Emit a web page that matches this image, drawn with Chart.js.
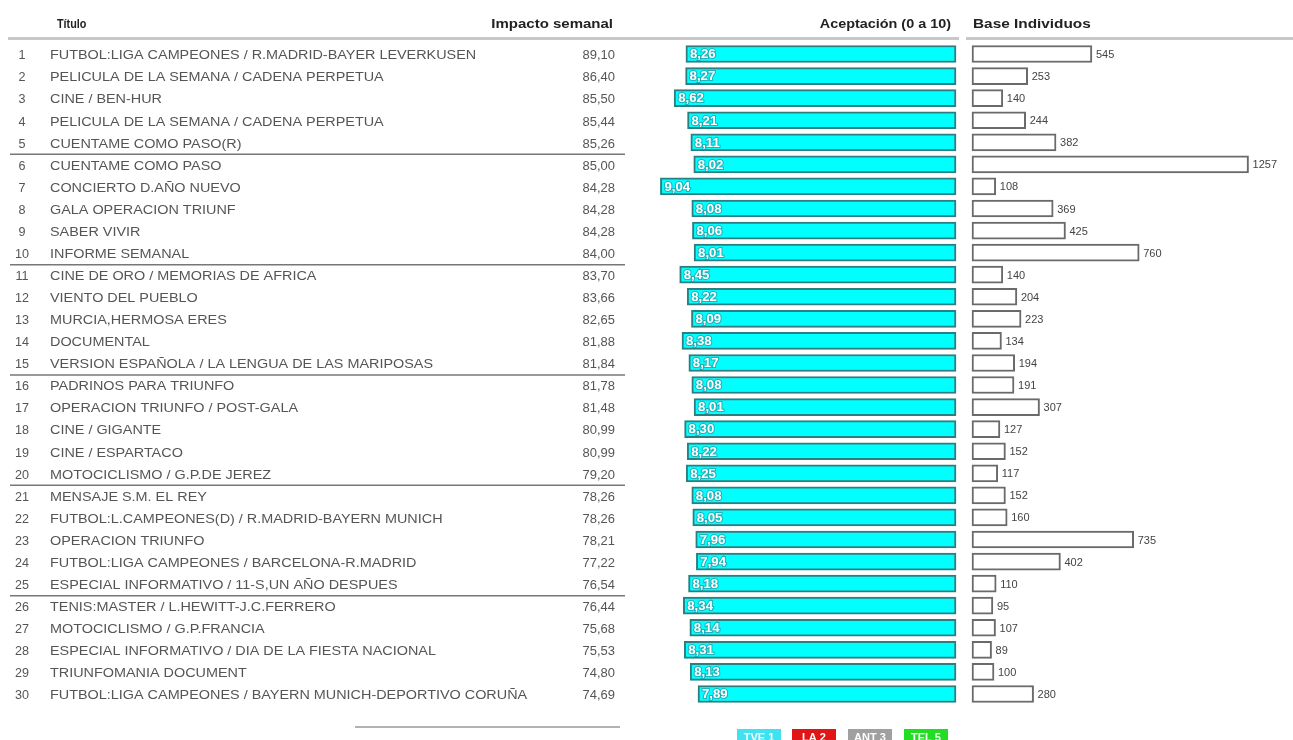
<!DOCTYPE html>
<html>
<head>
<meta charset="utf-8">
<script src="https://cdn.jsdelivr.net/npm/chart.js@4"></script>
<style>
  html, body { margin: 0; padding: 0; background: #fff; }
  #wrap { position: relative; width: 1293px; height: 740px; }
</style>
</head>
<body>
<div id="wrap"><canvas id="rankingChart"></canvas></div>
<script>
/* global Chart:false */

var titulos = [
  "FUTBOL:LIGA CAMPEONES / R.MADRID-BAYER LEVERKUSEN",
  "PELICULA DE LA SEMANA / CADENA PERPETUA",
  "CINE / BEN-HUR",
  "PELICULA DE LA SEMANA / CADENA PERPETUA",
  "CUENTAME COMO PASO(R)",
  "CUENTAME COMO PASO",
  "CONCIERTO D.AÑO NUEVO",
  "GALA OPERACION TRIUNF",
  "SABER VIVIR",
  "INFORME SEMANAL",
  "CINE DE ORO / MEMORIAS DE AFRICA",
  "VIENTO DEL PUEBLO",
  "MURCIA,HERMOSA ERES",
  "DOCUMENTAL",
  "VERSION ESPAÑOLA / LA LENGUA DE LAS MARIPOSAS",
  "PADRINOS PARA TRIUNFO",
  "OPERACION TRIUNFO / POST-GALA",
  "CINE / GIGANTE",
  "CINE / ESPARTACO",
  "MOTOCICLISMO / G.P.DE JEREZ",
  "MENSAJE S.M. EL REY",
  "FUTBOL:L.CAMPEONES(D) / R.MADRID-BAYERN MUNICH",
  "OPERACION TRIUNFO",
  "FUTBOL:LIGA CAMPEONES / BARCELONA-R.MADRID",
  "ESPECIAL INFORMATIVO / 11-S,UN AÑO DESPUES",
  "TENIS:MASTER / L.HEWITT-J.C.FERRERO",
  "MOTOCICLISMO / G.P.FRANCIA",
  "ESPECIAL INFORMATIVO / DIA DE LA FIESTA NACIONAL",
  "TRIUNFOMANIA DOCUMENT",
  "FUTBOL:LIGA CAMPEONES / BAYERN MUNICH-DEPORTIVO CORUÑA"
];
var impactoSemanal = [89.10, 86.40, 85.50, 85.44, 85.26, 85.00, 84.28, 84.28, 84.28, 84.00,
  83.70, 83.66, 82.65, 81.88, 81.84, 81.78, 81.48, 80.99, 80.99, 79.20,
  78.26, 78.26, 78.21, 77.22, 76.54, 76.44, 75.68, 75.53, 74.80, 74.69];
var aceptacion = [8.26, 8.27, 8.62, 8.21, 8.11, 8.02, 9.04, 8.08, 8.06, 8.01,
  8.45, 8.22, 8.09, 8.38, 8.17, 8.08, 8.01, 8.30, 8.22, 8.25,
  8.08, 8.05, 7.96, 7.94, 8.18, 8.34, 8.14, 8.31, 8.13, 7.89];
var baseIndividuos = [545, 253, 140, 244, 382, 1257, 108, 369, 425, 760,
  140, 204, 223, 134, 194, 191, 307, 127, 152, 117,
  152, 160, 735, 402, 110, 95, 107, 89, 100, 280];
var cadenas = ["TVE 1", "LA 2", "ANT 3", "TEL 5"];
var cadenaColores = ["#40e2f2", "#e01515", "#a0a0a0", "#22dd22"];

// pixel layout of the two bar columns (both x axes share the plot area)
var PLOT_L = 627, PLOT_R = 1293;
var ACC_ZERO = 956, ACC_PX = 32.7;
var BASE_ZERO = 972, BASE_PX = 0.22;
var accMax = (ACC_ZERO - PLOT_L) / ACC_PX;
var accMin = accMax - (PLOT_R - PLOT_L) / ACC_PX;
var baseMin = -(BASE_ZERO - PLOT_L) / BASE_PX;
var baseMax = baseMin + (PLOT_R - PLOT_L) / BASE_PX;

function coma(v) {
  return v.toFixed(2).replace(".", ",");
}

var FONT = "'Liberation Sans', Arial, sans-serif";

// the source renders its text wide, so stretch glyphs horizontally
function wideText(ctx, text, x, y, sx) {
  ctx.save();
  ctx.translate(x, y);
  ctx.scale(sx, 1);
  ctx.fillText(text, 0, 0);
  ctx.restore();
}

var tablePlugin = {
  id: "tabla",
  afterDatasetsDraw: function (chart) {
    var ctx = chart.ctx;
    ctx.save();
    ctx.textAlign = "left";
    ctx.textBaseline = "middle";
    // value labels on the bars
    chart.getDatasetMeta(0).data.forEach(function (bar, i) {
      ctx.font = "bold 12px " + FONT;
      ctx.save();
      ctx.translate(bar.x + 4, bar.y + 1);
      ctx.scale(1.1, 1);
      ctx.lineWidth = 2;
      ctx.strokeStyle = "rgba(40,150,160,0.7)";
      ctx.strokeText(coma(aceptacion[i]), 0, 0);
      ctx.fillStyle = "#ffffff";
      ctx.fillText(coma(aceptacion[i]), 0, 0);
      ctx.restore();
    });
    chart.getDatasetMeta(1).data.forEach(function (bar, i) {
      ctx.font = "11px " + FONT;
      ctx.fillStyle = "#444";
      ctx.fillText(String(baseIndividuos[i]), bar.x + 4, bar.y + 1);
    });
    ctx.restore();
  },
  afterDraw: function (chart) {
    var ctx = chart.ctx;
    var y = chart.scales.y;
    ctx.save();

    // header
    ctx.font = "bold 12px " + FONT;
    ctx.fillStyle = "#222";
    ctx.textBaseline = "middle";
    ctx.textAlign = "left";
    wideText(ctx, "Título", 57, 25, 0.9);
    ctx.textAlign = "right";
    wideText(ctx, "Impacto semanal", 613, 25, 1.25);
    wideText(ctx, "Aceptación (0 a 10)", 951, 25, 1.2);
    ctx.textAlign = "left";
    wideText(ctx, "Base Individuos", 973, 25, 1.28);

    ctx.strokeStyle = "#c8c8c8";
    ctx.lineWidth = 3;
    ctx.beginPath();
    ctx.moveTo(8, 38.5); ctx.lineTo(959, 38.5);
    ctx.moveTo(966, 38.5); ctx.lineTo(1293, 38.5);
    ctx.stroke();

    // rows
    ctx.font = "12px " + FONT;
    ctx.fillStyle = "#555";
    titulos.forEach(function (t, i) {
      var yy = y.getPixelForValue(i) + 2;
      ctx.textAlign = "center";
      wideText(ctx, String(i + 1), 22, yy, 1.05);
      ctx.textAlign = "left";
      wideText(ctx, t, 50, yy, 1.2);
      ctx.textAlign = "right";
      wideText(ctx, coma(impactoSemanal[i]), 615, yy, 1.08);
    });

    // separators every five rows
    ctx.strokeStyle = "#777";
    ctx.lineWidth = 1.5;
    for (var k = 5; k < titulos.length; k += 5) {
      var ys = (y.getPixelForValue(k - 1) + y.getPixelForValue(k)) / 2 + 1;
      ctx.beginPath();
      ctx.moveTo(10, ys); ctx.lineTo(625, ys);
      ctx.stroke();
    }

    // short rule under the impact column
    ctx.strokeStyle = "#999";
    ctx.lineWidth = 1.5;
    ctx.beginPath();
    ctx.moveTo(355, 727); ctx.lineTo(620, 727);
    ctx.stroke();

    // channel key
    var xs = [737, 792, 848, 904];
    ctx.font = "bold 11px " + FONT;
    ctx.textAlign = "center";
    cadenas.forEach(function (c, i) {
      ctx.fillStyle = cadenaColores[i];
      ctx.fillRect(xs[i], 729, 44, 16);
      ctx.fillStyle = "#fff";
      ctx.fillText(c, xs[i] + 22, 738);
    });
    ctx.restore();
  }
};

var ctx = document.getElementById("rankingChart").getContext("2d");
var rankingChart = new Chart(ctx, {
  type: "bar",
  data: {
    labels: titulos,
    datasets: [
      {
        label: "Aceptación (0 a 10)",
        data: aceptacion,
        xAxisID: "x",
        backgroundColor: "#00ffff",
        borderColor: "#2c7f80",
        borderWidth: 2,
        borderSkipped: false,
        barThickness: 17,
        grouped: false,
      },
      {
        label: "Base Individuos",
        data: baseIndividuos,
        xAxisID: "x2",
        backgroundColor: "#ffffff",
        borderColor: "#6a6a6a",
        borderWidth: 2,
        borderSkipped: false,
        barThickness: 17,
        grouped: false,
      },
    ],
  },
  options: {
    indexAxis: "y",
    responsive: true,
    maintainAspectRatio: false,
    animation: false,
    layout: {
      padding: { left: PLOT_L, right: 1293 - PLOT_R, top: 43, bottom: 35 },
    },
    plugins: {
      legend: { display: false },
      tooltip: { enabled: false },
    },
    scales: {
      y: { type: "category", display: false, offset: true },
      x: { type: "linear", display: false, reverse: true, min: accMin, max: accMax },
      x2: { type: "linear", display: false, min: baseMin, max: baseMax },
    },
  },
  plugins: [tablePlugin],
});
</script>
</body>
</html>
